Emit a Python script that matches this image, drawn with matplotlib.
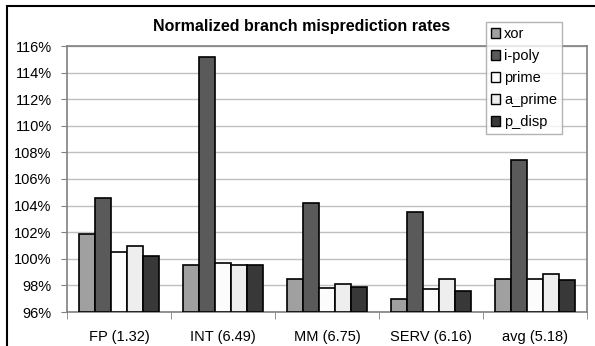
import numpy as np
import matplotlib
matplotlib.use('Agg')
import matplotlib.pyplot as plt
from matplotlib.patches import Patch, Rectangle

plt.rcParams['font.family'] = ['Liberation Sans', 'DejaVu Sans']

categories = ['FP (1.32)', 'INT (6.49)', 'MM (6.75)', 'SERV (6.16)', 'avg (5.18)']
series = ['xor', 'i-poly', 'prime', 'a_prime', 'p_disp']
xor = [101.9, 99.5, 98.5, 96.95, 98.5]
i_poly = [104.6, 115.15, 104.2, 103.55, 107.4]
prime = [100.5, 99.7, 97.8, 97.7, 98.5]
a_prime = [100.95, 99.55, 98.1, 98.5, 98.85]
p_disp = [100.2, 99.55, 97.9, 97.6, 98.4]
values = [xor, i_poly, prime, a_prime, p_disp]
colors = ['#a0a0a0', '#5a5a5a', '#fcfcfc', '#eeeeee', '#383838']
yticks = np.arange(96, 117, 2)

fig = plt.figure(figsize=(5.95, 3.46), dpi=100)
ax = fig.add_axes([67/595, 1-312/346, 520/595, 266/346])

x = np.arange(len(categories))
w = 0.154
for i, (vals, c) in enumerate(zip(values, colors)):
    ax.bar(x + (i - 2) * w, np.array(vals) - 96, bottom=96, width=w,
           color=c, edgecolor='black', linewidth=1.2, zorder=3)

ax.set_xlim(-0.5, len(categories) - 0.5)
ax.set_ylim(96, 116)
ax.set_yticks(yticks)
ax.set_yticklabels(['%d%%' % t for t in yticks], fontsize=10.5)
ax.set_xticks(x)
ax.set_xticklabels(categories, fontsize=10.5)
ax.set_xticks(np.arange(len(categories) + 1) - 0.5, minor=True)
ax.tick_params(axis='x', which='major', length=0, pad=13)
ax.tick_params(axis='x', which='minor', length=5, color='#808080', direction='out')
ax.tick_params(axis='y', length=4, color='#808080', pad=7)
ax.grid(axis='y', color='#c0c0c0', linewidth=1, zorder=0)
for s in ax.spines.values():
    s.set_color('#808080')
    s.set_linewidth(1.2)

fig.text(302/595, 1-27/346, 'Normalized branch misprediction rates',
         ha='center', va='center', fontsize=11.5, fontweight='bold')

handles = [Patch(facecolor=c, edgecolor='black', linewidth=1) for c in colors]
leg = fig.legend(handles, series, loc='upper left', bbox_to_anchor=(486/595, 1-22/346),
                 fontsize=10.5, frameon=True, fancybox=False, borderaxespad=0,
                 handlelength=0.6, handleheight=0.6, handletextpad=0.3,
                 labelspacing=0.55, borderpad=0.35)
leg.get_frame().set_edgecolor('#a0a0a0')
leg.get_frame().set_linewidth(1)

fig.patches.append(Rectangle((7/595, -0.1), 1.0, 1-6/346+0.1, transform=fig.transFigure,
                             fill=False, edgecolor='black', linewidth=1.5))

fig.savefig('out.png', dpi=100)
